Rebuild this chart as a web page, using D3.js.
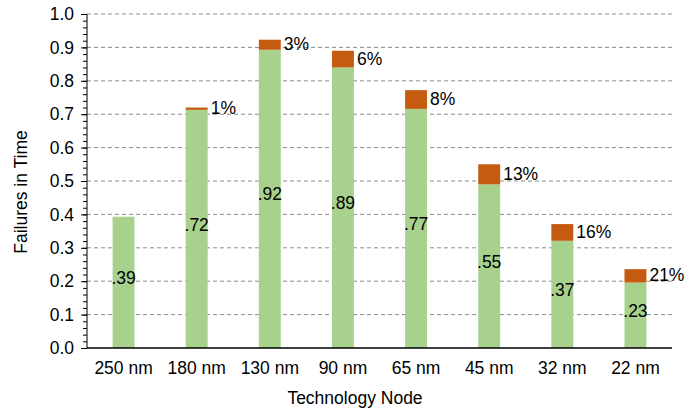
<!DOCTYPE html>
<html lang="en">
<head>
    <meta charset="UTF-8">
    <title>Failures in Time</title>
    <script src="https://cdn.jsdelivr.net/npm/d3@7"></script>
    <style>
        body {
            margin: 0;
            padding: 0;
            background: #ffffff;
            font-family: "Liberation Sans", Arial, sans-serif;
        }
        svg text {
            fill: #000;
        }
    </style>
</head>
<body>
    <svg id="chart" width="691" height="413"></svg>
    <script>
        // data
        const nodes = ["250 nm", "180 nm", "130 nm", "90 nm", "65 nm", "45 nm", "32 nm", "22 nm"];
        const greenPart = [0.393, 0.713, 0.893, 0.840, 0.716, 0.490, 0.321, 0.196];
        const orangePart = [0, 0.007, 0.030, 0.050, 0.056, 0.060, 0.050, 0.040];
        const totalLabels = [".39", ".72", ".92", ".89", ".77", ".55", ".37", ".23"];
        const pctLabels = ["", "1%", "3%", "6%", "8%", "13%", "16%", "21%"];
        const yTicks = [0, 0.1, 0.2, 0.3, 0.4, 0.5, 0.6, 0.7, 0.8, 0.9, 1.0];

        const fs = 17.5;
        const svg = d3.select("#chart");
        const margin = { top: 14, right: 19, bottom: 65, left: 87 };
        const width = 691 - margin.left - margin.right;
        const height = 413 - margin.top - margin.bottom;

        const g = svg.append("g").attr("transform", `translate(${margin.left},${margin.top})`);

        const x = d3.scaleBand().domain(nodes).range([0, width]).paddingInner(0.7).paddingOuter(0.35);
        const y = d3.scaleLinear().domain([0, 1]).range([height, 0]);

        // grid
        g.append("g")
            .selectAll("line")
            .data(yTicks.slice(1))
            .enter()
            .append("line")
            .attr("x1", 0)
            .attr("x2", width)
            .attr("y1", d => y(d))
            .attr("y2", d => y(d))
            .attr("stroke", "#8c8c8c")
            .attr("stroke-width", 1)
            .attr("stroke-dasharray", "4,3");

        // minor ticks
        g.append("g")
            .call(d3.axisLeft(y).ticks(50).tickSize(4).tickFormat(""))
            .call(a => a.select(".domain").remove())
            .selectAll("line").attr("stroke", "#000");

        // stacked bars
        g.append("g")
            .selectAll("rect")
            .data(nodes)
            .enter()
            .append("rect")
            .attr("x", d => x(d))
            .attr("width", x.bandwidth())
            .attr("y", (d, i) => y(greenPart[i]))
            .attr("height", (d, i) => y(0) - y(greenPart[i]))
            .attr("fill", "#a9d18e");

        g.append("g")
            .selectAll("rect")
            .data(nodes)
            .enter()
            .append("rect")
            .attr("x", d => x(d))
            .attr("width", x.bandwidth())
            .attr("y", (d, i) => y(greenPart[i] + orangePart[i]))
            .attr("height", (d, i) => y(greenPart[i]) - y(greenPart[i] + orangePart[i]))
            .attr("fill", "#c55a11");

        // value labels
        g.append("g")
            .selectAll("text")
            .data(nodes)
            .enter()
            .append("text")
            .attr("x", d => x(d) + x.bandwidth() / 2)
            .attr("y", (d, i) => (y(0) + y(greenPart[i])) / 2 - 3)
            .attr("text-anchor", "middle")
            .attr("dominant-baseline", "middle")
            .attr("font-size", fs)
            .text((d, i) => totalLabels[i]);

        g.append("g")
            .selectAll("text")
            .data(nodes)
            .enter()
            .append("text")
            .attr("x", d => x(d) + x.bandwidth() + 3)
            .attr("y", (d, i) => y(greenPart[i] + orangePart[i] / 2) + 1)
            .attr("dominant-baseline", "middle")
            .attr("font-size", fs)
            .text((d, i) => pctLabels[i]);

        // axes
        const yAxis = g.append("g")
            .call(d3.axisLeft(y).tickValues(yTicks).tickSize(6).tickPadding(7).tickFormat(d3.format(".1f")));
        yAxis.select(".domain").attr("stroke", "#000").attr("d", `M0,0V${height}`);
        yAxis.selectAll("text").attr("font-size", fs).attr("font-family", "Liberation Sans, Arial, sans-serif");

        const xAxis = g.append("g")
            .attr("transform", `translate(0,${height})`)
            .call(d3.axisBottom(x).tickSize(0).tickPadding(14));
        xAxis.select(".domain").attr("stroke", "#000").attr("stroke-width", 1.5).attr("d", `M0,0H${width}`);
        xAxis.selectAll("text").attr("font-size", fs).attr("font-family", "Liberation Sans, Arial, sans-serif");

        // titles
        svg.append("text")
            .attr("x", 355)
            .attr("y", 404)
            .attr("text-anchor", "middle")
            .attr("font-size", fs)
            .text("Technology Node");

        svg.append("text")
            .attr("transform", "translate(27,192) rotate(-90)")
            .attr("text-anchor", "middle")
            .attr("font-size", fs)
            .text("Failures in Time");
    </script>
</body>
</html>
